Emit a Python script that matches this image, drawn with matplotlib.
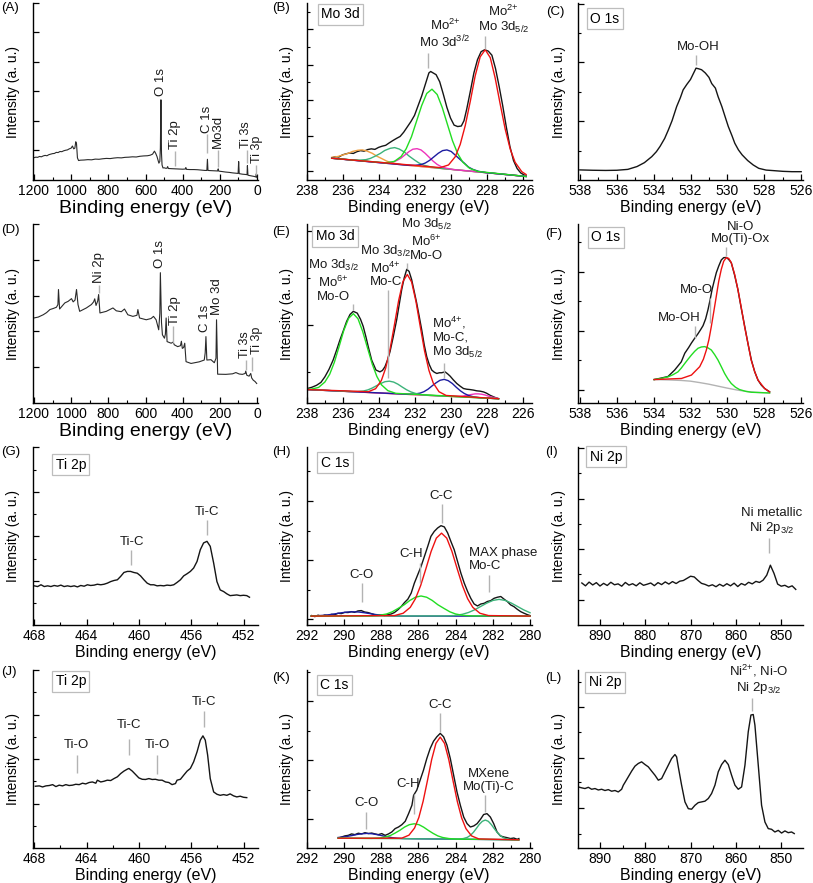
import matplotlib
matplotlib.use("Agg")
import matplotlib.pyplot as plt

plt.rcParams["font.family"] = ["Liberation Sans", "DejaVu Sans"]
plt.rcParams["mathtext.fontset"] = "custom"
plt.rcParams["mathtext.rm"] = "Liberation Sans"
plt.rcParams["mathtext.default"] = "regular"

# ---------------- data (binding energy in eV, intensity in a.u. of the axis height)
# (A) survey, MAX phase
A_EV = [1200, 1190, 1180, 1170, 1160, 1150, 1140, 1130, 1120, 1110, 1100, 1090, 1080, 1070, 1060,
        1050, 1040, 1030, 1020, 1010, 1000, 993, 986, 980, 975, 971, 966, 960, 950, 930, 910, 890,
        870, 850, 830, 810, 790, 770, 750, 730, 710, 690, 670, 650, 630, 610, 590, 575, 562, 552,
        545, 538, 528, 523, 520, 517, 514, 511, 506, 500, 490, 484, 481, 477, 460, 440, 420, 400,
        386, 383, 380, 360, 340, 320, 300, 280, 270, 267, 264, 250, 230, 212, 209, 206, 190, 170,
        150, 130, 110, 102, 99, 96, 80, 60, 54, 52, 49, 30, 15, 7, 4, 1]
A_INT = [12.6, 12.9, 12.8, 13.3, 13.1, 13.6, 13.9, 13.7, 14.3, 14.6, 14.9, 15.0, 15.6, 15.5, 16.1,
         16.0, 16.5, 16.8, 17.0, 17.6, 18.0, 19.2, 17.6, 18.0, 21.6, 20.5, 12.5, 11.0, 11.2, 11.3,
         11.5, 11.4, 11.8, 11.7, 12.0, 12.2, 12.1, 12.4, 12.6, 12.5, 12.8, 12.9, 13.1, 13.0, 13.4,
         13.6, 13.7, 14.0, 14.6, 16.3, 15.0, 13.2, 9.5, 10.5, 18.0, 45.3, 15.0, 8.5, 6.8, 6.9, 6.6,
         6.7, 7.6, 6.5, 6.4, 6.3, 6.2, 6.1, 6.2, 7.0, 6.0, 5.9, 5.9, 5.8, 5.6, 5.4, 5.4, 11.7, 5.4,
         5.3, 5.2, 5.1, 6.3, 5.0, 4.8, 4.5, 4.3, 4.0, 3.8, 3.7, 10.4, 3.6, 3.3, 3.1, 3.0, 8.1, 2.7,
         2.3, 2.0, 1.7, 3.5, 1.4]

# (B) Mo 3d, MAX phase
B_EV = [236.6, 236.4, 236.2, 236.0, 235.8, 235.6, 235.4, 235.2, 235.0, 234.8, 234.6, 234.4, 234.2,
        234.0, 233.8, 233.6, 233.4, 233.2, 233.0, 232.8, 232.6, 232.4, 232.2, 232.0, 231.8, 231.6,
        231.4, 231.2, 231.1, 230.95, 230.8, 230.6, 230.4, 230.2, 230.0, 229.8, 229.6, 229.4, 229.25,
        229.1, 228.9, 228.7, 228.5, 228.3, 228.1, 227.9, 227.7, 227.5, 227.3, 227.1, 226.9, 226.7,
        226.5, 226.3, 226.1, 225.9, 225.8]
B_INT = [12.5, 13.2, 13.0, 14.2, 14.8, 15.3, 15.0, 16.0, 16.6, 16.3, 17.2, 17.6, 17.3, 18.4, 19.1,
         19.6, 21.0, 22.3, 23.5, 24.6, 27.0, 30.0, 33.0, 36.5, 42.0, 47.5, 54.0, 60.5, 61.3, 60.4,
         59.5, 55.5, 48.5, 41.0, 35.0, 31.0, 30.2, 30.5, 33.5, 40.0, 50.0, 60.5, 68.0, 72.5, 73.6,
         72.8, 70.5, 63.0, 53.0, 42.0, 30.0, 19.0, 11.0, 6.5, 4.0, 2.8, 2.4]
B_BASE_EV = [236.6, 225.8]
B_BASE = [12.3, 2.0]
B_ORANGE_EV = [236.6, 236.25, 236.0, 235.7, 235.45, 235.15, 234.9, 234.65, 234.35, 234.1, 233.8,
               233.55, 233.3, 232.9, 232.45, 225.8]
B_ORANGE = [12.8, 13.3, 14.1, 15.0, 16.1, 16.8, 17.0, 16.4, 15.1, 13.5, 12.0, 10.7, 9.8, 9.0, 8.4, 2.0]
B_TEAL_EV = [236.6, 235.55, 235.1, 234.7, 234.45, 234.2, 233.9, 233.65, 233.35, 233.1, 232.85,
             232.55, 232.3, 232.0, 231.75, 231.5, 231.1, 230.65, 225.8]
B_TEAL = [12.3, 11.4, 11.2, 11.5, 12.2, 13.4, 15.0, 16.7, 17.9, 18.3, 17.5, 15.7, 13.5, 11.3, 9.6,
          8.4, 7.4, 6.7, 2.0]
B_MAGENTA_EV = [236.6, 233.89, 233.51, 233.21, 232.99, 232.76, 232.54, 232.31, 232.09, 231.86,
                231.64, 231.41, 231.19, 230.96, 230.74, 230.51, 230.21, 229.84, 225.8]
B_MAGENTA = [12.3, 9.8, 9.7, 10.1, 11.0, 12.3, 14.1, 16.0, 17.4, 17.7, 17.0, 15.1, 12.9, 10.6, 8.8,
             7.5, 6.6, 5.9, 2.0]
B_GREEN_EV = [236.6, 233.6, 233.12, 232.74, 232.46, 232.17, 231.89, 231.6, 231.32, 231.03, 230.74,
              230.46, 230.17, 229.89, 229.6, 229.32, 228.94, 228.47, 225.8]
B_GREEN = [12.3, 9.7, 10.5, 13.3, 17.7, 24.4, 33.1, 42.1, 48.9, 51.3, 48.3, 41.0, 31.4, 22.2, 14.9,
           10.1, 6.6, 4.8, 2.0]
B_BLUE_EV = [236.6, 232.36, 231.96, 231.64, 231.4, 231.16, 230.92, 230.68, 230.44, 230.2, 229.96,
             229.72, 229.48, 229.24, 229.0, 228.76, 228.44, 228.04, 225.8]
B_BLUE = [12.3, 8.3, 8.3, 8.7, 9.6, 11.1, 13.1, 15.1, 16.6, 17.0, 16.1, 13.9, 11.7, 9.6, 7.3, 6.0,
          4.9, 4.2, 2.0]
B_RED_EV = [236.6, 230.57, 230.11, 229.74, 229.46, 229.18, 228.9, 228.63, 228.35, 228.07, 227.79,
            227.52, 227.24, 226.96, 226.68, 226.41, 226.04, 225.8]
B_RED = [12.3, 7.0, 8.5, 13.1, 20.1, 30.8, 44.5, 58.8, 69.6, 73.6, 69.1, 57.7, 42.9, 28.7, 17.4,
         10.0, 4.7, 3.1]

# (C) O 1s, MAX phase
C_EV = [538.0, 537.3, 536.6, 536.0, 535.4, 534.9, 534.5, 534.1, 533.85, 533.65, 533.4, 533.2, 533.0,
        532.75, 532.55, 532.4, 532.2, 532.0, 531.85, 531.7, 531.55, 531.4, 531.2, 531.0, 530.85,
        530.65, 530.5, 530.3, 530.1, 529.95, 529.75, 529.6, 529.4, 529.2, 528.9, 528.6, 528.3,
        527.9, 527.5, 527.0, 526.5, 526.0]
C_INT = [5.7, 5.5, 5.4, 5.5, 6.0, 7.6, 9.8, 13.2, 16.0, 19.0, 23.5, 28.3, 33.5, 41.5, 46.5, 50.9,
         54.0, 56.8, 60.0, 63.2, 62.8, 62.3, 60.5, 58.0, 54.5, 51.9, 47.0, 41.5, 35.0, 30.2, 25.0,
         20.8, 17.0, 14.2, 11.0, 8.5, 6.6, 5.6, 5.3, 4.9, 4.7, 4.7]

# (D) survey, Ni-decorated MXene
D_EV = [1200, 1177, 1150, 1132, 1114, 1096, 1079, 1071, 1068, 1062, 1034, 1016, 998, 989, 979, 971,
        963, 954, 918, 891, 879, 873, 866, 857, 852, 845, 811, 775, 757, 730, 713, 695, 668, 646,
        641, 632, 596, 570, 557, 543, 529, 523, 520, 514, 509, 498, 493, 489, 484, 462, 452, 445,
        427, 412, 407, 402, 395, 389, 382, 355, 311, 284, 279, 275, 270, 248, 230, 221, 218, 212,
        168, 132, 114, 96, 79, 64, 61, 55, 43, 34, 29, 21, 11, 2]
D_INT = [47.5, 48.0, 49.3, 50.5, 52.2, 52.8, 53.5, 55.0, 63.4, 52.5, 55.9, 56.8, 58.3, 56.5, 57.5,
         63.4, 55.0, 51.2, 53.1, 55.0, 56.5, 58.2, 54.5, 57.0, 60.6, 50.3, 51.2, 53.1, 51.5, 51.0,
         52.5, 49.3, 48.4, 49.0, 52.2, 47.5, 46.5, 47.2, 48.4, 46.5, 40.9, 50.0, 72.8, 45.0, 38.1,
         36.2, 38.5, 47.5, 34.3, 33.4, 34.0, 32.5, 31.5, 32.0, 34.5, 30.5, 31.0, 33.4, 23.1, 22.1,
         23.0, 24.0, 28.0, 37.1, 24.0, 24.2, 22.5, 25.0, 46.5, 16.1, 16.0, 16.3, 17.0, 16.2, 16.0,
         16.5, 17.8, 15.5, 15.0, 16.5, 14.0, 12.8, 12.0, 10.9]

# (E) Mo 3d, Ni-decorated MXene
E_EV = [237.95, 237.7, 237.44, 237.2, 236.98, 236.75, 236.52, 236.33, 236.14, 235.95, 235.77,
        235.58, 235.4, 235.18, 235.0, 234.85, 234.7, 234.57, 234.38, 234.14, 233.92, 233.78, 233.64,
        233.5, 233.36, 233.18, 232.99, 232.85, 232.71, 232.57, 232.43, 232.3, 232.16, 232.02,
        231.88, 231.74, 231.6, 231.46, 231.32, 231.18, 231.04, 230.9, 230.76, 230.62, 230.49,
        230.3, 230.15, 230.02, 229.85, 229.65, 229.45, 229.28, 229.1, 228.91, 228.72, 228.54,
        228.35, 228.17, 228.0, 227.8, 227.55, 227.33]
E_INT = [8.1, 8.8, 9.9, 11.5, 14.6, 18.8, 24.0, 29.5, 35.3, 40.5, 45.6, 49.5, 51.2, 50.2, 46.8,
         42.8, 37.0, 31.5, 24.0, 18.4, 17.4, 18.2, 20.3, 24.0, 28.7, 37.0, 46.5, 55.0, 63.4, 70.0,
         74.7, 73.5, 69.0, 62.5, 55.9, 48.5, 40.9, 32.5, 25.9, 21.5, 18.4, 17.2, 16.5, 16.9, 16.9,
         17.4, 16.2, 15.0, 13.0, 10.9, 9.3, 8.1, 7.7, 7.5, 7.2, 6.8, 6.6, 6.2, 5.5, 4.3, 3.2, 2.4]
E_BASE_EV = [237.95, 227.33]
E_BASE = [7.5, 2.4]
E_GREEN_EV = [237.95, 237.76, 237.33, 236.98, 236.71, 236.45, 236.19, 235.93, 235.66, 235.4, 235.14,
              234.88, 234.61, 234.35, 234.09, 233.83, 233.48, 233.04, 227.33]
E_GREEN = [7.6, 7.7, 8.7, 11.7, 16.1, 22.8, 31.5, 40.5, 47.3, 49.9, 47.1, 40.0, 30.7, 21.8, 14.8,
           10.1, 6.9, 5.4, 2.4]
E_TEAL_EV = [237.95, 235.56, 235.16, 234.84, 234.6, 234.36, 234.12, 233.88, 233.64, 233.4, 233.16,
             232.92, 232.68, 232.44, 232.2, 231.96, 231.64, 231.24, 227.33]
E_TEAL = [7.5, 6.4, 6.4, 6.7, 7.3, 8.3, 9.6, 10.9, 11.9, 12.2, 11.7, 10.5, 8.9, 7.4, 6.2, 5.4, 4.7,
          4.3, 2.4]
E_RED_EV = [237.95, 234.56, 234.16, 233.84, 233.6, 233.36, 233.12, 232.88, 232.64, 232.4, 232.16,
            231.92, 231.68, 231.44, 231.2, 230.96, 230.64, 230.24, 227.33]
E_RED = [7.5, 6.3, 8.0, 12.6, 19.5, 30.0, 43.4, 57.3, 67.9, 71.8, 67.6, 56.8, 42.7, 29.0, 18.3,
         11.2, 6.3, 4.2, 2.4]
E_BLUE_EV = [237.95, 232.38, 232.0, 231.7, 231.48, 231.25, 231.03, 230.8, 230.58, 230.35, 230.13,
             229.9, 229.68, 229.45, 229.23, 229.0, 228.7, 228.33, 227.33]
E_BLUE = [7.5, 4.9, 5.0, 5.5, 6.3, 7.7, 9.5, 11.3, 12.7, 13.2, 12.5, 10.9, 8.8, 6.8, 5.3, 4.2, 3.4,
          2.9, 2.4]
E_MAGENTA_EV = [237.95, 230.07, 229.77, 229.53, 229.35, 229.17, 228.99, 228.81, 228.63, 228.45,
                228.27, 228.09, 227.91, 227.73, 227.55, 227.37]
E_MAGENTA = [7.5, 3.7, 3.7, 3.7, 3.8, 4.1, 4.5, 4.8, 5.1, 5.1, 4.9, 4.5, 3.9, 3.4, 3.0, 2.6]

# (F) O 1s, Ni-decorated MXene
F_EV = [533.97, 533.6, 533.22, 532.86, 532.5, 532.31, 532.1, 531.95, 531.77, 531.6, 531.45, 531.32,
        531.18, 531.05, 530.94, 530.83, 530.72, 530.6, 530.47, 530.33, 530.2, 530.06, 529.93,
        529.79, 529.61, 529.43, 529.25, 529.06, 528.88, 528.7, 528.52, 528.34, 528.16, 527.98, 527.71]
F_INT = [13.1, 13.9, 14.8, 18.4, 23.0, 27.8, 31.0, 33.5, 36.2, 38.6, 41.0, 43.2, 47.0, 52.2, 57.5,
         63.4, 68.0, 72.8, 76.5, 79.9, 81.2, 81.3, 80.2, 78.4, 71.5, 63.4, 53.0, 42.8, 33.0, 24.0,
         17.5, 12.8, 10.0, 8.1, 6.2]
F_RED_EV = [533.97, 532.49, 531.95, 531.5, 531.3, 531.14, 531.0, 530.87, 530.73, 530.6, 530.47,
            530.33, 530.2, 530.06, 529.93, 529.79, 529.61, 529.43, 529.25, 529.07, 528.88, 528.71,
            528.52, 528.34, 527.98, 527.71]
F_RED = [13.1, 13.7, 15.6, 20.3, 24.5, 29.6, 35.5, 42.8, 51.5, 59.7, 68.0, 74.7, 79.2, 81.2, 80.8,
         78.4, 72.0, 63.4, 53.5, 42.8, 33.0, 24.0, 17.5, 12.8, 8.1, 6.2]
F_GREEN_EV = [533.97, 533.6, 533.22, 532.95, 532.68, 532.5, 532.31, 532.13, 531.95, 531.77, 531.59,
              531.41, 531.23, 531.05, 530.87, 530.69, 530.51, 530.33, 530.15, 529.97, 529.79,
              529.56, 529.34, 529.0, 528.7, 527.71]
F_GREEN = [13.1, 13.7, 14.6, 15.8, 17.4, 19.5, 22.1, 24.5, 26.8, 28.9, 30.6, 31.3, 31.5, 30.8, 29.6,
           27.0, 24.0, 20.3, 16.5, 13.4, 10.9, 8.8, 7.5, 6.5, 6.0, 5.6]
F_BASE_EV = [533.97, 533.2, 532.5, 532.0, 531.5, 531.0, 530.5, 530.0, 529.5, 529.0, 528.5, 527.71]
F_BASE = [13.1, 12.9, 12.6, 12.2, 11.4, 10.5, 9.4, 8.3, 7.3, 6.5, 6.0, 5.6]

# (G) Ti 2p, MAX phase
G_EV = [468.0, 467.75, 467.49, 467.24, 466.98, 466.73, 466.48, 466.22, 465.97, 465.72, 465.46,
        465.21, 464.95, 464.7, 464.45, 464.19, 463.94, 463.69, 463.43, 463.18, 462.92, 462.67,
        462.42, 462.16, 461.91, 461.65, 461.4, 461.15, 460.89, 460.64, 460.39, 460.13, 459.88,
        459.62, 459.37, 459.12, 458.86, 458.61, 458.36, 458.1, 457.85, 457.59, 457.34, 457.09,
        456.83, 456.58, 456.32, 456.07, 455.82, 455.56, 455.31, 455.06, 454.8, 454.55, 454.29,
        454.04, 453.79, 453.53, 453.28, 453.03, 452.77, 452.52, 452.26, 452.01, 451.76, 451.55]
G_INT = [22.0, 21.6, 22.6, 21.6, 22.0, 21.6, 22.2, 21.8, 22.4, 21.6, 22.0, 21.6, 22.0, 21.4, 22.2,
         21.8, 22.6, 22.2, 22.4, 22.9, 22.6, 22.9, 23.5, 24.4, 25.0, 25.4, 27.3, 29.5, 30.1, 30.1,
         29.5, 29.1, 27.6, 25.4, 23.5, 22.6, 22.6, 22.0, 22.2, 22.0, 22.4, 22.2, 22.6, 23.9, 25.4,
         27.6, 28.8, 30.1, 32.0, 35.7, 42.3, 46.1, 47.0, 44.2, 34.8, 24.4, 19.7, 18.8, 17.5, 16.5,
         16.7, 16.9, 16.5, 16.7, 16.5, 15.6]

# (H) C 1s, MAX phase
H_EV = [291.73, 291.55, 291.38, 291.2, 291.02, 290.84, 290.66, 290.48, 290.31, 290.13, 289.95,
        289.77, 289.59, 289.42, 289.24, 289.06, 288.88, 288.7, 288.52, 288.35, 288.17, 287.99,
        287.81, 287.63, 287.45, 287.28, 287.1, 286.92, 286.74, 286.56, 286.38, 286.21, 286.03,
        285.85, 285.67, 285.49, 285.32, 285.14, 284.96, 284.78, 284.6, 284.42, 284.25, 284.07,
        283.89, 283.71, 283.53, 283.35, 283.18, 283.0, 282.82, 282.64, 282.46, 282.29, 282.11,
        281.93, 281.75, 281.57, 281.39, 281.22, 281.04, 280.86, 280.68, 280.5, 280.32, 280.14, 280.0]
H_INT = [5.3, 4.7, 5.5, 4.9, 5.6, 5.3, 6.0, 5.8, 6.6, 6.4, 7.1, 7.0, 7.5, 7.1, 7.9, 8.1, 7.3, 7.0,
         6.4, 5.8, 5.5, 5.6, 5.3, 5.8, 6.2, 7.0, 8.5, 10.3, 12.6, 14.5, 17.9, 23.5, 28.2, 32.9, 38.5,
         44.2, 49.8, 52.6, 54.5, 55.8, 55.1, 51.7, 47.0, 42.3, 35.7, 29.1, 23.5, 18.8, 15.0, 11.8,
         10.7, 11.8, 12.2, 13.2, 13.7, 15.0, 15.6, 16.0, 14.5, 13.2, 11.3, 10.3, 8.8, 7.5, 6.6, 5.8,
         5.3]
H_BLUE_EV = [291.75, 291.3, 291.0, 290.7, 290.4, 290.1, 289.8, 289.5, 289.2, 288.9, 288.6, 288.3,
             288.0, 287.7, 287.3, 286.8, 280.0]
H_BLUE = [5.1, 5.3, 5.5, 5.9, 6.4, 6.9, 7.3, 7.4, 7.3, 6.9, 6.4, 5.9, 5.5, 5.3, 5.1, 5.0, 5.0]
H_GREEN_EV = [291.75, 288.62, 288.1, 287.7, 287.4, 287.1, 286.75, 286.45, 286.15, 285.85, 285.55,
              285.25, 284.95, 284.6, 284.3, 284.0, 283.6, 283.1, 280.0]
H_GREEN = [5.0, 5.1, 5.4, 6.2, 7.4, 9.2, 11.4, 13.8, 15.6, 16.3, 15.6, 13.8, 11.4, 9.2, 7.4, 6.2,
           5.4, 5.1, 5.0]
H_RED_EV = [291.75, 287.27, 286.81, 286.43, 286.15, 285.87, 285.59, 285.31, 285.03, 284.75, 284.47,
            284.19, 283.91, 283.63, 283.35, 283.07, 282.69, 282.23, 280.0]
H_RED = [5.0, 5.3, 6.6, 9.9, 14.8, 22.2, 31.6, 41.3, 48.8, 51.6, 48.8, 41.3, 31.6, 22.2, 14.8, 9.9,
         6.6, 5.3, 5.0]
H_TEAL_EV = [291.75, 284.63, 284.08, 283.64, 283.31, 282.98, 282.65, 282.32, 281.99, 281.66, 281.33,
             281.0, 280.67, 280.34, 280.0]
H_TEAL = [5.0, 5.1, 5.3, 6.0, 7.0, 8.5, 10.4, 12.3, 13.8, 14.4, 13.8, 12.3, 10.4, 8.5, 6.9]

# (I) Ni 2p, MAX phase
I_EV = [894.0, 893.2, 892.4, 891.6, 890.8, 890.0, 889.2, 888.4, 887.6, 886.8, 886.0, 885.2, 884.4,
        883.6, 882.8, 882.0, 881.2, 880.4, 879.6, 878.8, 878.0, 877.2, 876.4, 875.6, 874.8, 874.0,
        873.2, 872.4, 871.6, 870.8, 870.0, 869.2, 868.4, 867.6, 866.8, 866.0, 865.2, 864.4, 863.6,
        862.8, 862.0, 861.2, 860.4, 859.6, 858.8, 858.0, 857.2, 856.4, 855.6, 854.8, 854.0, 853.2,
        852.4, 851.6, 850.8, 850.0, 849.2, 848.4, 847.6, 846.8]
I_INT = [23.6, 22.0, 24.1, 22.5, 23.8, 21.9, 23.4, 22.2, 24.0, 22.6, 23.1, 21.8, 23.9, 22.4, 23.2,
         22.0, 23.7, 22.3, 22.9, 23.6, 22.1, 23.8, 22.7, 24.2, 23.0, 24.4, 23.3, 24.6, 25.0, 26.2,
         27.4, 27.0, 25.1, 23.4, 22.8, 21.9, 22.6, 21.5, 22.9, 21.8, 23.2, 22.0, 23.5, 21.6, 23.3,
         22.4, 24.0, 23.1, 24.5, 23.9, 25.2, 28.0, 33.6, 29.0, 23.0, 21.8, 22.3, 21.2, 22.0, 20.0]

# (J) Ti 2p, Ni-decorated MXene
J_EV = [467.92, 467.62, 467.37, 467.11, 466.86, 466.6, 466.35, 466.1, 465.84, 465.59, 465.34,
        465.08, 464.83, 464.57, 464.32, 464.07, 463.81, 463.56, 463.3, 463.18, 462.92, 462.67,
        462.42, 462.16, 461.91, 461.65, 461.4, 461.15, 460.89, 460.77, 460.51, 460.26, 460.01,
        459.75, 459.5, 459.24, 458.99, 458.74, 458.48, 458.23, 457.97, 457.72, 457.47, 457.21,
        457.09, 456.83, 456.58, 456.32, 456.07, 455.82, 455.56, 455.31, 455.11, 454.93, 454.75,
        454.55, 454.29, 454.04, 453.79, 453.53, 453.28, 453.03, 452.77, 452.52, 452.26, 452.01, 451.76]
J_INT = [34.7, 34.9, 34.3, 34.9, 35.1, 35.6, 34.5, 35.3, 34.9, 35.6, 35.1, 35.3, 35.8, 35.6, 36.4,
         36.0, 36.8, 37.1, 36.4, 38.1, 37.1, 37.5, 38.1, 37.9, 39.0, 40.0, 41.8, 43.2, 44.3, 44.7,
         43.2, 41.3, 39.4, 38.6, 38.5, 39.0, 38.5, 38.6, 38.1, 38.1, 37.1, 36.8, 35.6, 36.2, 38.1,
         38.6, 40.9, 43.2, 44.7, 48.4, 54.0, 60.6, 63.0, 60.6, 52.2, 39.0, 31.5, 30.2, 29.6, 30.0,
         29.6, 30.4, 29.3, 28.7, 29.1, 28.5, 28.3]

# (K) C 1s, Ni-decorated MXene
K_EV = [290.29, 290.11, 289.94, 289.76, 289.58, 289.4, 289.22, 289.04, 288.86, 288.68, 288.5,
        288.32, 288.14, 287.96, 287.78, 287.6, 287.42, 287.24, 287.06, 286.88, 286.7, 286.52,
        286.34, 286.25, 286.08, 285.9, 285.72, 285.54, 285.36, 285.18, 285.0, 284.82, 284.64,
        284.46, 284.28, 284.1, 283.92, 283.74, 283.56, 283.38, 283.2, 283.02, 282.84, 282.66,
        282.49, 282.31, 282.13, 281.95, 281.77, 281.59, 281.41, 281.23, 281.05, 280.87, 280.69, 280.6]
K_INT = [5.6, 6.2, 6.8, 7.1, 7.9, 7.5, 8.3, 7.9, 8.6, 8.1, 8.4, 7.9, 7.5, 8.1, 7.1, 7.9, 9.0, 10.9,
         11.8, 13.1, 15.0, 19.3, 24.0, 29.6, 32.5, 38.1, 43.7, 50.3, 55.9, 60.0, 62.5, 64.4, 62.5,
         57.8, 50.3, 40.9, 31.5, 24.0, 17.4, 13.7, 11.8, 12.4, 13.7, 16.1, 18.8, 19.3, 17.4, 13.7,
         9.0, 6.8, 6.2, 5.8, 5.3, 5.6, 4.9, 5.3]
K_BLUE_EV = [290.3, 290.1, 289.83, 289.56, 289.29, 289.02, 288.75, 288.48, 288.21, 287.94, 287.67,
             287.4, 287.13, 286.77, 286.32, 280.6]
K_BLUE = [5.9, 6.1, 6.5, 7.0, 7.6, 8.0, 8.2, 8.0, 7.5, 6.9, 6.3, 5.8, 5.5, 5.3, 5.2, 4.6]
K_GREEN_EV = [290.3, 288.52, 288.09, 287.75, 287.5, 287.24, 286.98, 286.73, 286.48, 286.22, 285.96,
              285.71, 285.46, 285.2, 284.95, 284.69, 284.35, 283.92, 280.6]
K_GREEN = [5.5, 5.4, 5.6, 6.2, 7.0, 8.4, 10.0, 11.8, 13.1, 13.6, 13.1, 11.7, 9.9, 8.2, 6.8, 5.9,
           5.3, 5.0, 4.6]
K_RED_EV = [290.3, 286.89, 286.5, 286.2, 285.97, 285.74, 285.51, 285.28, 285.05, 284.82, 284.59,
            284.36, 284.13, 283.9, 283.67, 283.44, 283.14, 282.75, 280.6]
K_RED = [5.5, 5.5, 7.2, 11.2, 17.1, 26.2, 37.7, 49.7, 58.8, 62.3, 58.8, 49.6, 37.6, 26.0, 16.9,
         10.9, 6.8, 5.1, 4.6]
K_TEAL_EV = [290.3, 283.84, 283.58, 283.36, 283.2, 283.04, 282.88, 282.72, 282.56, 282.4, 282.24,
             282.08, 281.92, 281.76, 281.6, 281.44, 281.22, 280.96, 280.6]
K_TEAL = [5.5, 5.0, 5.3, 6.0, 7.1, 8.8, 11.0, 13.3, 15.0, 15.7, 15.0, 13.2, 10.9, 8.7, 7.0, 5.8,
          5.0, 4.7, 4.6]

# (L) Ni 2p, Ni-decorated MXene
L_EV = [894.78, 894.04, 893.31, 892.57, 891.84, 891.1, 890.37, 889.63, 888.9, 888.16, 887.43,
        886.69, 885.96, 885.22, 884.85, 884.49, 883.75, 883.01, 882.28, 881.54, 880.81, 880.07,
        879.34, 878.6, 877.87, 877.13, 876.4, 875.66, 874.93, 874.19, 873.46, 873.09, 872.72,
        871.99, 871.25, 870.51, 869.78, 869.04, 868.31, 867.57, 866.84, 866.1, 865.37, 864.63,
        863.9, 863.16, 862.43, 861.69, 860.96, 860.22, 859.49, 858.75, 858.01, 857.28, 856.69,
        856.18, 855.81, 855.07, 854.34, 853.6, 852.87, 852.13, 851.4, 850.66, 849.93, 849.19,
        848.46, 847.72, 847.13]
L_INT = [34.3, 33.8, 33.4, 34.1, 33.0, 33.4, 32.6, 33.0, 32.3, 32.8, 31.9, 32.3, 31.5, 33.0, 35.3,
         36.8, 40.0, 43.2, 46.0, 47.5, 48.4, 46.9, 45.6, 43.2, 40.9, 38.1, 39.0, 42.8, 46.5, 50.3,
         52.5, 51.2, 45.6, 35.3, 25.9, 22.1, 21.8, 24.0, 25.5, 25.9, 26.3, 27.8, 30.6, 35.3, 42.8,
         46.9, 49.3, 46.9, 40.9, 35.3, 33.0, 34.3, 46.5, 65.3, 74.7, 75.0, 69.0, 46.5, 24.0, 14.6,
         10.9, 10.5, 9.0, 9.9, 8.4, 9.6, 8.6, 9.0, 8.1]

# ---------------- styling
BLACK = "#151515"
GREEN = "#22dd22"
RED = "#ee1111"
BLUE = "#1c1ca0"
MAGENTA = "#ee33bb"
TEAL = "#3cb37a"
ORANGE = "#f0a040"
GREY = "#b3b3b3"

W, H = 813, 883
COLS = [33, 306.5, 578]
ROWS = [(3, 180), (224, 403), (447, 625), (670, 848)]

fig = plt.figure(figsize=(W / 100, H / 100), dpi=100)


def panel(col, row, xlim, xticks, ymaj, ymin, big=False):
    top, bottom = ROWS[row]
    ax = fig.add_axes([COLS[col] / W, 1 - bottom / H, 225 / W, (bottom - top) / H])
    ax.set_xlim(*xlim)
    ax.set_ylim(0, 100)
    for s in ("top", "right"):
        ax.spines[s].set_visible(False)
    for s in ("left", "bottom"):
        ax.spines[s].set_linewidth(1.0)
    ax.set_xticks(xticks)
    ax.set_xticks([(a + b) / 2 for a, b in zip(xticks[:-1], xticks[1:])], minor=True)
    ax.set_yticks(ymaj)
    ax.set_yticks(ymin, minor=True)
    ax.set_yticklabels([])
    ax.tick_params(which="both", direction="in", labelsize=10, pad=3)
    ax.tick_params(which="major", length=4, width=0.9)
    ax.tick_params(which="minor", length=2, width=0.8)
    ax.set_xlabel("Binding energy (eV)", fontsize=14 if big else 11.5, labelpad=1)
    ax.set_ylabel("Intensity (a. u.)", fontsize=10, labelpad=6)
    return ax


def note(ax, x, y0, y1, text, tx=None, ty=None, ha="center", rot=0, fs=9.5):
    if y0 is not None:
        ax.plot([x, x], [y0, y1], color=GREY, lw=1.0, solid_capstyle="butt")
    ax.text(x if tx is None else tx, (y1 + 1.0) if ty is None else ty, text, ha=ha, va="bottom",
            rotation=rot, fontsize=fs, linespacing=1.1, multialignment=ha, color="#1a1a1a")


def boxlabel(ax, x, y, text):
    ax.text(x, y, text, transform=ax.transAxes, ha="left", va="top", fontsize=10,
            bbox=dict(boxstyle="square,pad=0.25", fc="white", ec="#bdbdbd", lw=0.9))


def plab(x, y, text):
    fig.text(x / W, 1 - y / H, text, ha="left", va="center", fontsize=9.5)


SURVEY_T = [1200, 1000, 800, 600, 400, 200, 0]

# (A)
ax = panel(0, 0, (1205, -5), SURVEY_T, [16.7, 33.4, 50.1, 66.8, 83.5, 99.8], [], big=True)
ax.plot(A_EV, A_INT, color="#2a2a2a", lw=0.8)
note(ax, 518, None, 46.5, "O 1s", rot=90)
note(ax, 443, 7.9, 16.6, "Ti 2p", rot=90)
note(ax, 268, 15.5, 25.8, "C 1s", rot=90)
note(ax, 209, 7.5, 17.0, "Mo3d", rot=90)
note(ax, 52, 9.4, 17.0, "Ti 3s", tx=58, rot=90, fs=9)
note(ax, 4, 2.8, 8.5, "Ti 3p", tx=-2, ty=9.5, rot=90, fs=9)
plab(1, 8, "(A)")

# (B)
ax = panel(1, 0, (238.0, 225.5), [238, 236, 234, 232, 230, 228, 226],
           [5.1, 25.1, 45.1, 65.1, 85.1], [15.1, 35.1, 55.1, 75.1, 95.1])
ax.plot(B_EV, B_INT, color=BLACK, lw=1.0)
ax.plot(B_BASE_EV, B_BASE, color="#c060c0", lw=0.9)
ax.plot(B_ORANGE_EV, B_ORANGE, color=ORANGE, lw=1.0)
ax.plot(B_TEAL_EV, B_TEAL, color=TEAL, lw=1.0)
ax.plot(B_MAGENTA_EV, B_MAGENTA, color=MAGENTA, lw=1.0)
ax.plot(B_BLUE_EV, B_BLUE, color=BLUE, lw=1.0)
ax.plot(B_GREEN_EV, B_GREEN, color=GREEN, lw=1.0)
ax.plot(B_RED_EV, B_RED, color=RED, lw=1.0)
note(ax, 231.25, 63.2, 71.7, "Mo$^{2{+}}$\nMo 3d$^{3/2}$", tx=230.3, ty=73.0)
note(ax, 228.1, 74.0, 81.1, "Mo$^{2{+}}$\nMo 3d$_{5/2}$", tx=227.05, ty=82.0)
boxlabel(ax, 0.065, 0.975, "Mo 3d")
plab(272, 8, "(B)")

# (C)
ax = panel(2, 0, (538.1, 525.9), [538, 536, 534, 532, 530, 528, 526],
           [33.2, 66.4, 99.6], [16.6, 49.8, 83.0])
ax.plot(C_EV, C_INT, color=BLACK, lw=1.0)
note(ax, 531.7, 65.1, 70.8, "Mo-OH", tx=531.6, ty=72.0)
boxlabel(ax, 0.055, 0.95, "O 1s")
plab(546, 12, "(C)")

# (D)
ax = panel(0, 1, (1205, -5), SURVEY_T, [20, 40, 60, 80, 99.8], [], big=True)
ax.plot(D_EV, D_INT, color="#2a2a2a", lw=0.8)
note(ax, 850, 61.5, 66.2, "Ni 2p", rot=90)
note(ax, 520, None, 74.5, "O 1s", rot=90)
note(ax, 454, 33.4, 42.8, "Ti 2p", tx=442, rot=90)
note(ax, 279, None, 38.5, "C 1s", rot=90)
note(ax, 214, None, 48.0, "Mo 3d", rot=90)
note(ax, 61, 18.2, 24.0, "Ti 3s", tx=66, rot=90, fs=9)
note(ax, 28, 18.0, 25.5, "Ti 3p", tx=-2, ty=27.5, rot=90, fs=9)
plab(1, 230, "(D)")

# (E)
ax = panel(1, 1, (238.0, 225.5), [238, 236, 234, 232, 230, 228, 226], [43.7, 96.2], [17.4, 70.0])
ax.plot(E_EV, E_INT, color=BLACK, lw=1.0)
ax.plot(E_BASE_EV, E_BASE, color=ORANGE, lw=1.0)
ax.plot(E_MAGENTA_EV, E_MAGENTA, color=MAGENTA, lw=1.0)
ax.plot(E_BLUE_EV, E_BLUE, color=BLUE, lw=1.0)
ax.plot(E_TEAL_EV, E_TEAL, color=TEAL, lw=1.0)
ax.plot(E_GREEN_EV, E_GREEN, color=GREEN, lw=1.0)
ax.plot(E_RED_EV, E_RED, color=RED, lw=1.0)
note(ax, 235.4, 52.0, 55.5, "Mo 3d$_{3/2}$\nMo$^{6{+}}$\nMo-O", tx=236.5, ty=56.0)
note(ax, 233.45, 13.7, 63.4, "Mo 3d$_{3/2}$\nMo$^{4{+}}$\nMo-C", tx=233.6, ty=64.0)
note(ax, 232.4, 75.0, 78.4, "Mo 3d$_{5/2}$\nMo$^{6{+}}$\nMo-O", tx=231.35, ty=79.0)
note(ax, 230.36, 13.7, 22.5, "Mo$^{4{+}}$,\nMo-C,\nMo 3d$_{5/2}$", tx=231.0, ty=24.0, ha="left")
boxlabel(ax, 0.04, 0.97, "Mo 3d")
plab(272, 232, "(E)")

# (F)
ax = panel(2, 1, (538.1, 525.9), [538, 536, 534, 532, 530, 528, 526],
           [7.5, 40.3, 73.2], [24.0, 56.8, 89.7])
ax.plot(F_BASE_EV, F_BASE, color=GREY, lw=1.0)
ax.plot(F_EV, F_INT, color=BLACK, lw=1.0)
ax.plot(F_GREEN_EV, F_GREEN, color=GREEN, lw=1.0)
ax.plot(F_RED_EV, F_RED, color=RED, lw=1.0)
note(ax, 530.09, 82.2, 86.9, "Ni-O\nMo(Ti)-Ox", tx=529.3, ty=88.0)
note(ax, 530.96, 44.7, 58.7, "Mo-O", tx=531.68, ty=60.0)
note(ax, 531.77, 36.2, 43.2, "Mo-OH", tx=532.6, ty=44.3)
boxlabel(ax, 0.058, 0.965, "O 1s")
plab(545, 234, "(F)")

# (G)
ax = panel(0, 2, (468.1, 450.9), [468, 464, 460, 456, 452],
           [24.8, 49.8, 74.8, 99.8], [12.4, 37.3, 62.3, 87.3])
ax.plot(G_EV, G_INT, color=BLACK, lw=1.0)
note(ax, 454.8, 50.8, 59.2, "Ti-C")
note(ax, 460.6, 33.8, 42.3, "Ti-C", tx=460.5)
boxlabel(ax, 0.1, 0.94, "Ti 2p")
plab(1, 452, "(G)")

# (H)
ax = panel(1, 2, (292.0, 279.92), [292, 290, 288, 286, 284, 282, 280],
           [3.2, 36.7, 69.5], [19.7, 53.0, 86.5])
ax.plot(H_EV, H_INT, color=BLACK, lw=1.0)
ax.plot(H_BLUE_EV, H_BLUE, color=BLUE, lw=1.0)
ax.plot(H_TEAL_EV, H_TEAL, color=TEAL, lw=1.0)
ax.plot(H_GREEN_EV, H_GREEN, color=GREEN, lw=1.0)
ax.plot(H_RED_EV, H_RED, color=RED, lw=1.0)
note(ax, 289.0, 13.2, 23.5, "C-O", tx=289.06, ty=25.0)
note(ax, 285.9, 23.5, 34.8, "C-H", tx=286.4, ty=36.3)
note(ax, 284.73, 57.3, 67.7, "C-C", tx=284.78, ty=69.0)
note(ax, 282.2, 18.8, 28.2, "MAX phase\nMo-C", tx=283.3, ty=29.6, ha="left")
boxlabel(ax, 0.064, 0.95, "C 1s")
plab(272, 452, "(H)")

# (I)
ax = panel(2, 2, (894.85, 845.2), [890, 880, 870, 860, 850],
           [14.1, 42.7, 71.0, 99.5], [28.4, 57.0, 85.5])
ax.plot(I_EV, I_INT, color=BLACK, lw=1.0)
note(ax, 852.65, 40.4, 48.9, "Ni metallic\nNi 2p$_{3/2}$", tx=852.1, ty=50.0)
boxlabel(ax, 0.053, 0.985, "Ni 2p")
plab(545, 452, "(I)")

# (J)
ax = panel(0, 3, (468.1, 450.9), [468, 464, 460, 456, 452],
           [25.0, 49.9, 75.0, 99.9], [12.4, 37.5, 62.5, 87.4])
ax.plot(J_EV, J_INT, color=BLACK, lw=1.0)
note(ax, 464.75, 42.4, 52.5, "Ti-O", ty=54.5)
note(ax, 460.77, 52.2, 61.5, "Ti-C", ty=65.5)
note(ax, 458.6, 41.8, 52.2, "Ti-O", ty=54.5)
note(ax, 455.0, 68.1, 76.9, "Ti-C", ty=78.8)
boxlabel(ax, 0.1, 0.975, "Ti 2p")
plab(1, 672, "(J)")

# (K)
ax = panel(1, 3, (292.0, 279.92), [292, 290, 288, 286, 284, 282, 280],
           [16.1, 49.3, 82.5], [32.7, 65.9, 99.1])
ax.plot(K_EV, K_INT, color=BLACK, lw=1.0)
ax.plot(K_BLUE_EV, K_BLUE, color=BLUE, lw=1.0)
ax.plot(K_TEAL_EV, K_TEAL, color=TEAL, lw=1.0)
ax.plot(K_GREEN_EV, K_GREEN, color=GREEN, lw=1.0)
ax.plot(K_RED_EV, K_RED, color=RED, lw=1.0)
note(ax, 288.8, 10.5, 20.3, "C-O", tx=288.77, ty=21.8)
note(ax, 286.25, 19.3, 30.6, "C-H", tx=286.52, ty=32.8)
note(ax, 284.82, 65.3, 75.6, "C-C", ty=77.0)
note(ax, 282.4, 20.3, 29.6, "MXene\nMo(Ti)-C", tx=282.2, ty=31.0)
boxlabel(ax, 0.06, 0.955, "C 1s")
plab(272, 678, "(K)")

# (L)
ax = panel(2, 3, (894.85, 845.2), [890, 880, 870, 860, 850],
           [22.5, 50.7, 79.0], [8.1, 36.8, 64.9, 93.4])
ax.plot(L_EV, L_INT, color=BLACK, lw=1.0)
note(ax, 856.4, 76.9, 84.0, "Ni$^{2{+}}$, Ni-O\nNi 2p$_{3/2}$", tx=855.0, ty=85.2)
boxlabel(ax, 0.047, 0.97, "Ni 2p")
plab(545, 678, "(L)")

fig.savefig("out.png", dpi=100)
